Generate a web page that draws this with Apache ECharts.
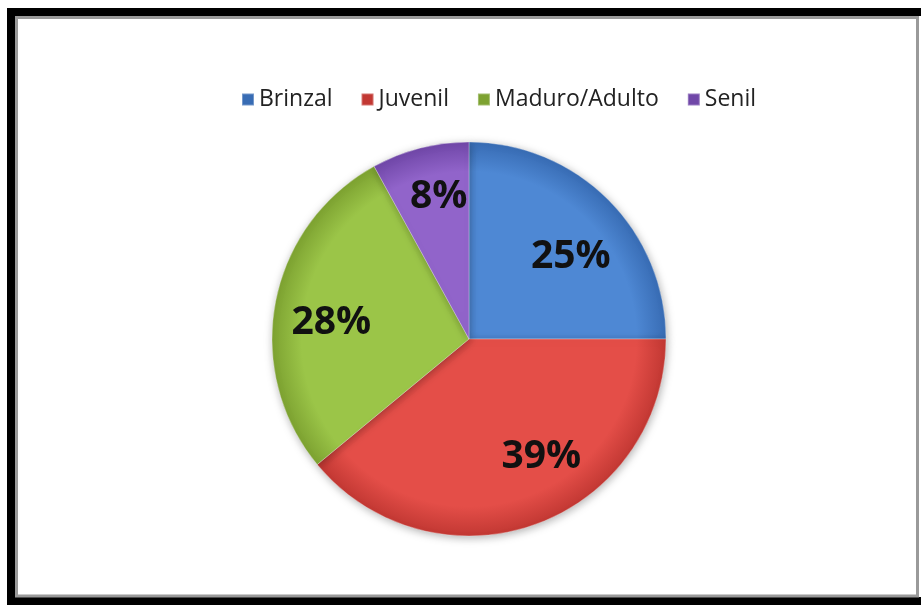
<!DOCTYPE html>
<html>
<head>
<meta charset="utf-8">
<script src="https://cdn.jsdelivr.net/npm/echarts@6/dist/echarts.min.js"></script>
<style>
  html, body { margin: 0; padding: 0; background: #fff; }
  #chart { width: 921px; height: 605px; }
</style>
</head>
<body>
<div id="chart"></div>
<script>
// Age classes and their share of the stand (percent)
const categories = ['Brinzal', 'Juvenil', 'Maduro/Adulto', 'Senil'];
const shares = [25, 39, 28, 8];

// Fill colours: light centre, deeper rim
const innerColors = ['#4e88d4', '#e44e48', '#9bc548', '#9164ca'];
const outerColors = ['#386cb4', '#c23833', '#7da231', '#7047a8'];

// Nudges for the in-slice percentage labels
const labelOffsets = [[30, -10], [38, 22], [-38, 3], [-5, -44]];

const cx = 469, cy = 339, r = 197;

const chart = echarts.init(document.getElementById('chart'), null, { renderer: 'canvas' });

const data = categories.map((name, i) => ({
  name,
  value: shares[i],
  itemStyle: {
    color: {
      type: 'radial', x: cx, y: cy, r: r, global: true,
      colorStops: [
        { offset: 0, color: innerColors[i] },
        { offset: 0.85, color: innerColors[i] },
        { offset: 1, color: outerColors[i] }
      ]
    }
  },
  label: { offset: labelOffsets[i] }
}));

chart.setOption({
  backgroundColor: '#ffffff',
  animation: false,
  graphic: [
    { type: 'rect', shape: { x: 11, y: 12, width: 925, height: 589 },
      style: { fill: 'none', stroke: '#000', lineWidth: 8 } },
    { type: 'rect', shape: { x: 16.5, y: 17.5, width: 901, height: 578.5 },
      style: { fill: 'none', stroke: '#9a9a9a', lineWidth: 3 } }
  ],
  color: innerColors,
  legend: {
    data: categories,
    top: 83,
    left: 236,
    icon: 'rect',
    itemWidth: 12,
    itemHeight: 12,
    itemGap: 28,
    textStyle: { fontFamily: 'Open Sans', fontSize: 23, color: '#222' }
  },
  series: [{
    type: 'pie',
    center: [cx, cy],
    radius: [0, r],
    startAngle: 90,
    clockwise: true,
    data,
    itemStyle: {
      borderColor: 'rgba(255,255,255,0.3)',
      borderWidth: 1,
      shadowBlur: 8,
      shadowColor: 'rgba(0,0,0,0.3)',
      shadowOffsetX: 1,
      shadowOffsetY: 2
    },
    label: {
      show: true,
      position: 'inside',
      formatter: '{c}%',
      fontFamily: 'Open Sans',
      fontWeight: 'bold',
      fontSize: 39,
      color: '#111'
    },
    labelLine: { show: false },
    emphasis: { disabled: true }
  }]
});
</script>
</body>
</html>
